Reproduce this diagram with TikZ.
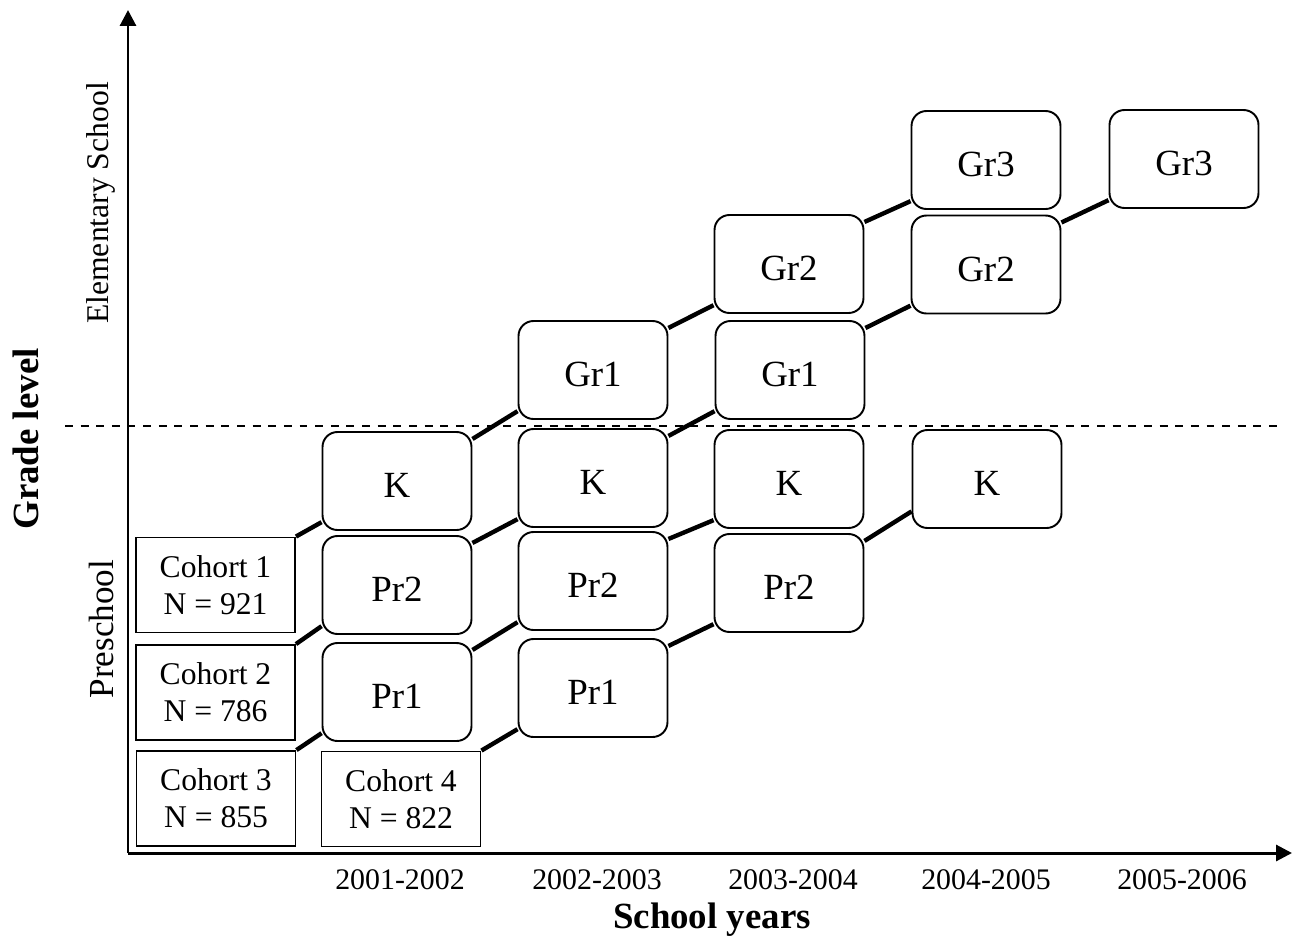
\documentclass[tikz,border=0pt]{standalone}
\usepackage{fontspec}
\setmainfont{Liberation Serif}
\usetikzlibrary{arrows.meta}

\begin{document}
\begin{tikzpicture}[x=0.02cm, y=-0.02cm,
  grade/.style={draw, rounded corners=8.5pt, line width=1.1pt, fill=white,
    minimum width=2.98cm, minimum height=1.96cm, inner sep=0pt,
    font=\fontsize{21}{25}\selectfont, text height=19pt, text depth=0pt},
  cohort/.style={draw, line width=1.1pt, fill=white, align=center,
    minimum width=3.18cm, minimum height=1.9cm, inner sep=0pt,
    font=\fontsize{18}{21}\selectfont},
  link/.style={line width=2.5pt},
  axis/.style={line width=1.7pt, -{Triangle[length=9pt, width=9pt]}},
  year/.style={font=\fontsize{17}{20}\selectfont},
  level/.style={rotate=90}]

 \useasboundingbox (0,0) rectangle (1294,943);

 %%%%%%%%%% Axes %%%%%%%%%%
 \coordinate (o) at (128,853);
 \coordinate (ytop) at (128,10);
 \coordinate (xend) at (1292,853);
 \draw[axis] (o) -- (ytop);
 \draw[axis] (o) -- (xend);

 % Preschool / elementary limit
 \coordinate (dl) at (65,426);
 \coordinate (dr) at (1280,426);
 \draw[line width=0.9pt, dash pattern=on 4.5pt off 4.4pt] (dl) -- (dr);

 %%%%%%%%%% Cohorts %%%%%%%%%%
 \node[cohort] (coh1) at (215.5,585) {Cohort 1\\N = 921};
 \node[cohort] (coh2) at (215.5,692.5) {Cohort 2\\N = 786};
 \node[cohort] (coh3) at (216,798.5) {Cohort 3\\N = 855};
 \node[cohort] (coh4) at (401,799) {Cohort 4\\N = 822};

 %%%%%%%%%% 2001-2002 %%%%%%%%%%
 \node[grade] (c1k) at (397,481) {K};
 \node[grade] (c1pr2) at (397,585) {Pr2};
 \node[grade] (c1pr1) at (397,692) {Pr1};

 %%%%%%%%%% 2002-2003 %%%%%%%%%%
 \node[grade] (c2gr1) at (593,370) {Gr1};
 \node[grade] (c2k) at (593,478) {K};
 \node[grade] (c2pr2) at (593,581) {Pr2};
 \node[grade] (c2pr1) at (593,688) {Pr1};

 %%%%%%%%%% 2003-2004 %%%%%%%%%%
 \node[grade] (c3gr2) at (789,264) {Gr2};
 \node[grade] (c3gr1) at (790,370) {Gr1};
 \node[grade] (c3k) at (789,479) {K};
 \node[grade] (c3pr2) at (789,583) {Pr2};

 %%%%%%%%%% 2004-2005 %%%%%%%%%%
 \node[grade] (c4gr3) at (986,160) {Gr3};
 \node[grade] (c4gr2) at (986,264.5) {Gr2};
 \node[grade] (c4k) at (987,479) {K};

 %%%%%%%%%% 2005-2006 %%%%%%%%%%
 \node[grade] (c5gr3) at (1184,159) {Gr3};

 %%%%%%%%%%% Links %%%%%%%%%%%
 % cohort 1
 \draw[link] (coh1.north east) -- ([yshift=5pt]c1k.south west);
 \draw[link] ([yshift=-4.5pt]c1k.north east) -- ([yshift=5pt]c2gr1.south west);
 \draw[link] ([yshift=-4.5pt]c2gr1.north east) -- ([yshift=5pt]c3gr2.south west);
 \draw[link] ([yshift=-4.5pt]c3gr2.north east) -- ([yshift=5pt]c4gr3.south west);
 % cohort 2
 \draw[link] (coh2.north east) -- ([yshift=5pt]c1pr2.south west);
 \draw[link] ([yshift=-4.5pt]c1pr2.north east) -- ([yshift=5pt]c2k.south west);
 \draw[link] ([yshift=-4.5pt]c2k.north east) -- ([yshift=5pt]c3gr1.south west);
 \draw[link] ([yshift=-4.5pt]c3gr1.north east) -- ([yshift=5pt]c4gr2.south west);
 \draw[link] ([yshift=-4.5pt]c4gr2.north east) -- ([yshift=5pt]c5gr3.south west);
 % cohort 3
 \draw[link] (coh3.north east) -- ([yshift=5pt]c1pr1.south west);
 \draw[link] ([yshift=-4.5pt]c1pr1.north east) -- ([yshift=5pt]c2pr2.south west);
 \draw[link] ([yshift=-4.5pt]c2pr2.north east) -- ([yshift=5pt]c3k.south west);
 % cohort 4
 \draw[link] (coh4.north east) -- ([yshift=5pt]c2pr1.south west);
 \draw[link] ([yshift=-4.5pt]c2pr1.north east) -- ([yshift=5pt]c3pr2.south west);
 \draw[link] ([yshift=-4.5pt]c3pr2.north east) -- ([yshift=10pt]c4k.south west);

 %%%%%%%%%%% Labels %%%%%%%%%%%
 \node[year] (y1) at (400,880) {2001-2002};
 \node[year] (y2) at (597,880) {2002-2003};
 \node[year] (y3) at (793,880) {2003-2004};
 \node[year] (y4) at (986,880) {2004-2005};
 \node[year] (y5) at (1182,880) {2005-2006};
 \node[font=\fontsize{21}{25}\selectfont\bfseries] (xlab) at (712,920) {School years};
 \node[rotate=90, font=\fontsize{21}{25}\selectfont\bfseries] (ylab) at (26,439) {Grade level};
 \node[level, font=\fontsize{18}{21}\selectfont] (elem) at (101,203) {Elementary School};
 \node[level, font=\fontsize{20}{23}\selectfont] (pre) at (101,629) {Preschool};

\end{tikzpicture}
\end{document}
